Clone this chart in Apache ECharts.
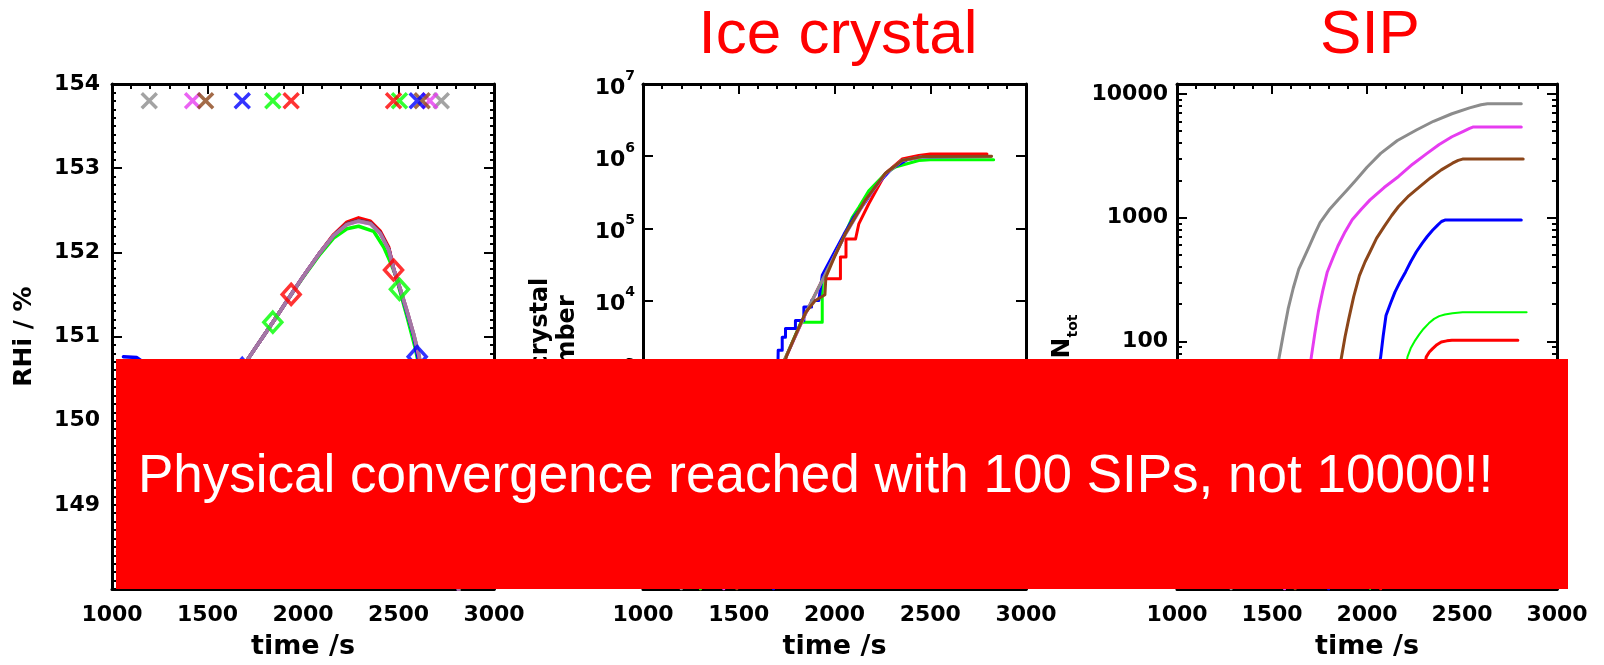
<!DOCTYPE html>
<html><head><meta charset="utf-8">
<script src="https://cdn.jsdelivr.net/npm/echarts@6/dist/echarts.min.js"></script>
<style>html,body{margin:0;padding:0;background:#fff}#c{width:1604px;height:665px}</style>
</head><body><div id="c"></div>
<script>
// ---------- DATA ----------
const timeTicks = [1000, 1500, 2000, 2500, 3000];
const seriesNames = ['gray', 'magenta', 'brown', 'blue', 'green', 'red'];
const seriesColors = ['#8c8c8c', '#e63cf0', '#8c461a', '#0000ff', '#00ff00', '#ff0000'];

// Panel 1: RHi (%) vs time (s)
const rhiRed = [[1030,148.45],[1200,149.0],[1400,149.67],[1600,150.36],[1714,150.74],[1842,151.17],[1938,151.5],[2000,151.71],[2090,152.0],[2160,152.21],[2230,152.36],[2291,152.41],[2353,152.37],[2405,152.25],[2449,152.06],[2475,151.8],[2510,151.54],[2545,151.27],[2580,150.99],[2606,150.76],[2650,150.25],[2700,149.6],[2760,148.8],[2800,148.2],[2815,148.0]];
const rhiGreen = [[1030,148.45],[1200,149.0],[1400,149.67],[1600,150.36],[1714,150.74],[1842,151.17],[1938,151.5],[2000,151.7],[2090,151.98],[2160,152.17],[2230,152.28],[2291,152.31],[2370,152.25],[2423,152.06],[2460,151.87],[2493,151.68],[2505,151.56],[2545,151.23],[2589,150.85],[2620,150.5],[2680,149.8],[2740,149.0],[2800,148.2],[2830,147.8]];
const rhiBlue = [[1060,150.76],[1130,150.75],[1160,150.7],[1290,150.5],[1400,150.3],[1500,150.1],[1600,150.36],[1714,150.74],[1842,151.17],[1938,151.5],[2000,151.71],[2090,152.0],[2160,152.2],[2230,152.34],[2291,152.38],[2353,152.35],[2405,152.23],[2449,152.04],[2475,151.8],[2510,151.55],[2545,151.28],[2580,151.0],[2601,150.76],[2650,150.2],[2700,149.55],[2760,148.75],[2820,147.9]];
const rhiBrown = [[1030,148.45],[1200,149.0],[1400,149.67],[1600,150.36],[1714,150.74],[1842,151.17],[1938,151.5],[2000,151.71],[2090,152.0],[2160,152.2],[2230,152.34],[2291,152.38],[2353,152.35],[2405,152.23],[2449,152.04],[2475,151.8],[2510,151.56],[2545,151.3],[2580,151.02],[2606,150.78],[2650,150.25],[2700,149.6],[2760,148.8],[2820,147.9]];
const rhiMagenta = [[1030,148.45],[1200,149.0],[1400,149.67],[1600,150.36],[1714,150.74],[1842,151.17],[1938,151.5],[2000,151.71],[2090,152.0],[2160,152.2],[2230,152.33],[2291,152.37],[2353,152.34],[2405,152.22],[2449,152.03],[2475,151.8],[2510,151.56],[2545,151.3],[2580,151.02],[2606,150.78],[2650,150.28],[2700,149.65],[2760,148.85],[2820,147.9]];
const rhiGray = [[1030,148.45],[1200,149.0],[1400,149.67],[1600,150.36],[1714,150.74],[1842,151.17],[1938,151.5],[2000,151.71],[2090,152.0],[2160,152.2],[2230,152.33],[2291,152.37],[2353,152.34],[2405,152.22],[2449,152.03],[2475,151.8],[2510,151.56],[2545,151.3],[2580,151.03],[2606,150.8],[2650,150.3],[2700,149.7],[2760,148.9],[2820,147.9]];

// Markers (order: gray, magenta, brown, blue, green, red)
const markTimesStart = [1195, 1422, 1490, 1682, 1842, 1938];
const markTimesEnd = [2724, 2664, 2624, 2598, 2505, 2474];
const markRHi = 153.8;
const diamondStartRHi = [149.0, 149.74, 149.97, 150.62, 151.17, 151.5];
const diamondEndRHi = [149.3, 149.85, 150.2, 150.76, 151.56, 151.79];

// Panel 2: ice crystal number
const numGray = [[1200,1],[1300,3],[1400,13],[1500,60],[1600,250],[1700,950],[1745,1620],[1849,6600],[1953,23400],[2057,83000],[2162,245000],[2266,575000],[2353,870000],[2457,975000],[2600,980000],[2814,980000]];
const numMagenta = [[1422,1],[1500,8],[1600,90],[1700,800],[1750,1700],[1849,6500],[1953,23000],[2057,82000],[2162,240000],[2266,570000],[2353,870000],[2457,985000],[2814,990000]];
const numBrown = [[1490,1],[1550,8],[1600,40],[1650,160],[1700,600],[1750,1700],[1800,3500],[1849,6800],[1900,10000],[1950,12000],[1955,21000],[2000,40000],[2057,85000],[2162,248000],[2266,580000],[2353,875000],[2457,985000],[2820,995000]];
const numBlue = [[1682,1],[1700,300],[1706,300],[1706,2040],[1727,2040],[1727,3090],[1744,3090],[1744,4070],[1796,4070],[1796,5250],[1840,5250],[1840,8130],[1880,8130],[1880,10000],[1918,10000],[1936,22400],[1990,41700],[2050,83000],[2100,141000],[2160,229000],[2220,398000],[2300,676000],[2380,890000],[2450,975000],[2810,990000]];
const numGreen = [[1300,1],[1400,13],[1500,60],[1600,250],[1700,950],[1745,1620],[1825,5000],[1936,5000],[1936,19000],[1970,28000],[2005,44700],[2049,75900],[2092,141000],[2127,195000],[2179,331000],[2266,575000],[2318,708000],[2440,871000],[2500,890000],[2831,890000]];
const numRed = [[1300,1],[1400,13],[1500,60],[1600,250],[1700,950],[1745,1620],[1849,6600],[1940,20000],[2031,20000],[2031,40000],[2060,40000],[2060,71000],[2110,71000],[2127,115000],[2179,219000],[2266,575000],[2353,912000],[2440,1020000],[2500,1070000],[2796,1070000]];

// Panel 3: number of SIPs
const sipGray = [[1285,1],[1350,3],[1420,10],[1480,30],[1515,50],[1538,75],[1560,115],[1585,183],[1612,270],[1641,383],[1670,480],[1697,590],[1725,740],[1753,910],[1800,1150],[1847,1390],[1900,1700],[1941,2000],[2000,2550],[2072,3300],[2160,4200],[2260,5100],[2350,6000],[2447,6900],[2540,7700],[2600,8150],[2634,8300],[2812,8300]];
const sipMagenta = [[1566,1],[1610,5],[1660,20],[1690,50],[1707,75],[1725,115],[1744,174],[1768,260],[1791,364],[1820,470],[1847,590],[1885,770],[1922,960],[1970,1170],[2016,1390],[2090,1750],[2166,2150],[2240,2700],[2316,3300],[2380,3900],[2447,4500],[2510,5000],[2540,5250],[2560,5400],[2812,5400]];
const sipBrown = [[1622,1],[1700,4],[1780,15],[1830,35],[1850,55],[1866,75],[1885,110],[1904,152],[1930,230],[1960,340],[1990,440],[2016,530],[2050,680],[2091,850],[2130,1040],[2166,1230],[2220,1500],[2278,1780],[2335,2100],[2391,2430],[2450,2750],[2480,2900],[2503,2970],[2822,2970]];
const sipBlue = [[1798,1],[1880,4],[1960,12],[2030,35],[2055,55],[2072,75],[2085,110],[2100,162],[2125,205],[2147,250],[2175,305],[2203,364],[2230,440],[2260,530],[2290,620],[2316,700],[2345,790],[2372,870],[2392,930],[2410,955],[2812,955]];
const sipGreen = [[2016,1],[2080,4],[2140,15],[2190,45],[2213,75],[2230,88],[2250,100],[2275,114],[2297,126],[2325,140],[2353,152],[2380,160],[2410,165],[2450,169],[2503,172],[2840,172]];
const sipRed = [[2072,1],[2150,5],[2220,15],[2280,40],[2300,60],[2312,75],[2328,82],[2344,87],[2368,94],[2391,99],[2420,101],[2447,102],[2794,102]];

const rhiTicks = [149, 150, 151, 152, 153, 154];
const sipMinorTickValues = [2,3,4,5,6,7,8,9,20,30,40,50,60,70,80,90,200,300,400,500,600,700,800,900,2000,3000,4000,5000,6000,7000,8000,9000];

// ---------- LAYOUT / STYLE ----------
const FONT = 'DejaVu Sans';
const AX = '#000';
const grids = [
  {left:112, top:84, width:382, height:506},
  {left:643, top:84, width:383, height:506},
  {left:1177, top:84, width:380, height:506}
];
const axisLine = {show:true, onZero:false, lineStyle:{color:AX, width:3}};
const tickStyle = {color:AX, width:2};
const labelFont = {fontFamily:FONT, fontSize:22, fontWeight:'bold', color:'#000'};
const nameFont = {fontFamily:FONT, fontSize:25, fontWeight:'bold', color:'#000'};

function xAxesFor(gi) {
  const base = {
    type:'value', gridIndex:gi, min:timeTicks[0], max:timeTicks[timeTicks.length-1],
    interval:timeTicks[1]-timeTicks[0],
    axisLine:axisLine,
    axisTick:{show:true, inside:true, length:10, lineStyle:tickStyle},
    minorTick:{show:true, splitNumber:5, length:5, lineStyle:tickStyle},
    splitLine:{show:false}, minorSplitLine:{show:false}
  };
  return [
    Object.assign({}, base, {position:'bottom',
      axisLabel:Object.assign({show:true, margin:15, formatter: v => String(v)}, labelFont),
      name:'time /s', nameLocation:'middle', nameGap:44,
      nameTextStyle:Object.assign({}, nameFont, {fontSize:27})}),
    Object.assign({}, base, {position:'top', axisLabel:{show:false}})
  ];
}

const yAxes = [
  // panel 1
  {type:'value', gridIndex:0, position:'left', min:148, max:154, interval:1,
   axisLine:axisLine, axisTick:{show:true, inside:true, length:10, lineStyle:tickStyle},
   minorTick:{show:true, splitNumber:10, length:4, lineStyle:tickStyle},
   splitLine:{show:false}, minorSplitLine:{show:false},
   axisLabel:Object.assign({margin:12, formatter: v => rhiTicks.indexOf(v) >= 0 ? String(v) : ''}, labelFont),
   name:'RHi / %', nameLocation:'middle', nameRotate:90, nameGap:75,
   nameTextStyle:nameFont},
  {type:'value', gridIndex:0, position:'right', min:148, max:154, interval:1,
   axisLine:axisLine, axisTick:{show:true, inside:true, length:10, lineStyle:tickStyle},
   minorTick:{show:true, splitNumber:10, length:4, lineStyle:tickStyle},
   splitLine:{show:false}, minorSplitLine:{show:false}, axisLabel:{show:false}},
  // panel 2
  {type:'log', logBase:10, gridIndex:1, position:'left', min:1, max:1e7,
   axisLine:axisLine, axisTick:{show:true, inside:true, length:10, lineStyle:tickStyle},
   splitLine:{show:false},
   axisLabel:{margin:8, color:'#000',
     formatter: v => { const e = Math.round(Math.log10(v)); return e === 0 ? '' : '{b|10}{s|' + e + '}'; },
     rich:{b:{fontFamily:FONT, fontSize:22, fontWeight:'bold', color:'#000', lineHeight:30, verticalAlign:'bottom'},
           s:{fontFamily:FONT, fontSize:14, fontWeight:'bold', color:'#000', lineHeight:14, verticalAlign:'top'}}},
   name:'Ice crystal\nnumber', nameLocation:'middle', nameRotate:90, nameGap:62,
   nameTextStyle:Object.assign({lineHeight:27, padding:[0,22,0,0]}, nameFont, {fontSize:24})},
  {type:'log', logBase:10, gridIndex:1, position:'right', min:1, max:1e7,
   axisLine:axisLine, axisTick:{show:true, inside:true, length:10, lineStyle:tickStyle},
   splitLine:{show:false}, axisLabel:{show:false}},
  // panel 3
  {type:'log', logBase:10, gridIndex:2, position:'left', min:1, max:12000,
   axisLine:axisLine, axisTick:{show:true, inside:true, length:10, lineStyle:tickStyle},
   splitLine:{show:false},
   axisLabel:Object.assign({margin:9,
     formatter: v => { const e = Math.log10(v); return (Math.abs(e - Math.round(e)) < 1e-6 && v > 1) ? String(Math.round(v)) : ''; }}, labelFont),
   name:'{n|N}{s|tot}', nameLocation:'middle', nameRotate:90, nameGap:97,
   nameTextStyle:{rich:{n:{fontFamily:FONT, fontSize:25, fontWeight:'bold', color:'#000', lineHeight:30, verticalAlign:'top'},
                        s:{fontFamily:FONT, fontSize:14, fontWeight:'bold', color:'#000', lineHeight:16, verticalAlign:'bottom'}}}},
  {type:'log', logBase:10, gridIndex:2, position:'right', min:1, max:12000,
   axisLine:axisLine, axisTick:{show:true, inside:true, length:10, lineStyle:tickStyle},
   splitLine:{show:false}, axisLabel:{show:false}},
  // panel 3 minor ticks (log10 space)
  {type:'value', gridIndex:2, position:'left', min:0, max:Math.log10(12000),
   axisLine:{show:false}, splitLine:{show:false}, axisLabel:{show:false},
   axisTick:{show:true, inside:true, length:5, lineStyle:tickStyle,
     customValues: sipMinorTickValues.map(v => Math.log10(v))}},
  {type:'value', gridIndex:2, position:'right', min:0, max:Math.log10(12000),
   axisLine:{show:false}, splitLine:{show:false}, axisLabel:{show:false},
   axisTick:{show:true, inside:true, length:5, lineStyle:tickStyle,
     customValues: sipMinorTickValues.map(v => Math.log10(v))}}
];

function line(xi, yi, data, color, width, opacity) {
  return {type:'line', xAxisIndex:xi, yAxisIndex:yi, data:data, showSymbol:false, symbol:'none',
    lineStyle:{color:color, width:width, opacity:opacity == null ? 1 : opacity, join:'round', cap:'round'},
    itemStyle:{color:color}, animation:false, z:2};
}
const C = {}; seriesNames.forEach((n,i) => C[n] = seriesColors[i]);

function markerItems(times, values) {
  return times.map((t,i) => ({value:[t, Array.isArray(values) ? values[i] : values],
    itemStyle:{color:'rgba(0,0,0,0)', borderColor:seriesColors[i], borderWidth:3.5}}));
}

const series = [
  // panel 1
  line(0,0,rhiRed,C.red,3.5), line(0,0,rhiGreen,C.green,3.5), line(0,0,rhiBlue,C.blue,3.5),
  line(0,0,rhiBrown,C.brown,3.5), line(0,0,rhiMagenta,C.magenta,3.5), line(0,0,rhiGray,C.gray,3.5,0.75),
  {type:'scatter', xAxisIndex:0, yAxisIndex:0, symbol:'diamond', symbolSize:[18,20], z:5, animation:false,
   data: markerItems(markTimesStart, diamondStartRHi).concat(markerItems(markTimesEnd, diamondEndRHi))},
  {type:'scatter', xAxisIndex:0, yAxisIndex:0, symbol:'path://M0,0L10,10M10,0L0,10', symbolSize:15, z:6, animation:false, clip:false,
   data: markerItems(markTimesStart, markRHi).concat(markerItems(markTimesEnd, markRHi))},
  // panel 2
  line(2,2,numRed,C.red,3), line(2,2,numGreen,C.green,3), line(2,2,numBlue,C.blue,3),
  line(2,2,numMagenta,C.magenta,3), line(2,2,numGray,C.gray,3), line(2,2,numBrown,C.brown,3),
  // panel 3
  line(4,4,sipGray,C.gray,3), line(4,4,sipMagenta,C.magenta,3), line(4,4,sipBrown,C.brown,3),
  line(4,4,sipBlue,C.blue,3), line(4,4,sipGreen,C.green,2), line(4,4,sipRed,C.red,3)
];

const chart = echarts.init(document.getElementById('c'), null, {renderer:'canvas'});
chart.setOption({
  animation:false,
  backgroundColor:'#fff',
  grid: grids,
  xAxis: [].concat(xAxesFor(0), xAxesFor(1), xAxesFor(2)),
  yAxis: yAxes,
  series: series,
  graphic: [
    {type:'text', x:838, y:36, z:50, style:{text:'Ice crystal', fill:'#ff0000', font:'62px "Liberation Sans"', align:'center', verticalAlign:'middle'}},
    {type:'text', x:1370, y:36, z:50, style:{text:'SIP', fill:'#ff0000', font:'62px "Liberation Sans"', align:'center', verticalAlign:'middle'}},
    {type:'rect', z:100, shape:{x:116, y:359, width:1452, height:230}, style:{fill:'#ff0000'}},
    {type:'text', x:138, y:477, z:101, style:{text:'Physical convergence reached with 100 SIPs, not 10000!!', fill:'#ffffff', font:'53px "Liberation Sans"', verticalAlign:'middle'}}
  ]
});
</script>
</body></html>
